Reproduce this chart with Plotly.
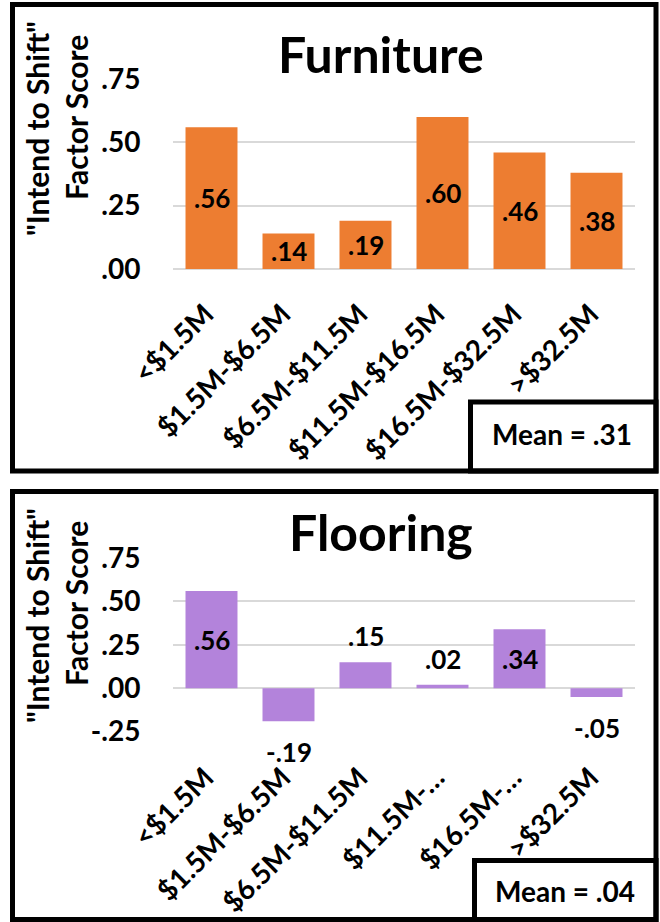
import plotly.graph_objects as go

# ---------------- data ----------------
categories_top = ["<$1.5M", "$1.5M-$6.5M", "$6.5M-$11.5M", "$11.5M-$16.5M", "$16.5M-$32.5M", ">$32.5M"]
furniture_values = [0.56, 0.14, 0.19, 0.60, 0.46, 0.38]
furniture_label_pos = ["inside", "inside", "inside", "inside", "inside", "inside"]
furniture_mean = ".31"

categories_bottom = ["<$1.5M", "$1.5M-$6.5M", "$6.5M-$11.5M", "$11.5M-…", "$16.5M-…", ">$32.5M"]
flooring_values = [0.56, -0.19, 0.15, 0.02, 0.34, -0.05]
flooring_label_pos = ["inside", "outside", "outside", "outside", "inside", "outside"]
flooring_mean = ".04"

yticks_top = [0.0, 0.25, 0.50, 0.75]
yticktext_top = [".00", ".25", ".50", ".75"]
yticks_bottom = [-0.25, 0.0, 0.25, 0.50, 0.75]
yticktext_bottom = ["-.25", ".00", ".25", ".50", ".75"]

titles = ["Furniture", "Flooring"]
ytitle_lines = ['"Intend to Shift"', "Factor Score"]

# ---------------- style ----------------
W, H = 660, 922
FONT = "Lato"
ORANGE = "#ED7D31"
PURPLE = "#B383DB"
GRID = "#D9D9D9"


def px(x):
    return x / W


def py(y):
    return 1 - y / H


def fmt(v):
    s = f"{v:.2f}"
    return s.replace("0.", ".", 1)


fig = go.Figure()
fig.add_trace(go.Bar(x=categories_top, y=furniture_values, marker_color=ORANGE,
                     xaxis="x", yaxis="y", hoverinfo="skip", showlegend=False))
fig.add_trace(go.Bar(x=categories_bottom, y=flooring_values, marker_color=PURPLE,
                     xaxis="x2", yaxis="y2", hoverinfo="skip", showlegend=False))

xdom = [px(173), px(635)]
xtickfont = dict(family=FONT, size=28, color="black", weight="bold")
ytickfont = dict(family=FONT, size=28, color="black", weight="bold")
common_x = dict(showgrid=False, zeroline=False, showline=False, tickangle=-45, automargin=False,
                tickfont=xtickfont, ticks="outside", tickcolor="rgba(0,0,0,0)",
                ticklabelshift=-6, fixedrange=True)
common_y = dict(showgrid=True, gridcolor=GRID, gridwidth=2, zeroline=True, zerolinecolor=GRID,
                zerolinewidth=2, showline=False, tickfont=ytickfont, ticks="outside", automargin=False,
                ticklen=26, tickcolor="rgba(0,0,0,0)", fixedrange=True)

fig.update_layout(
    template="none",
    width=W, height=H, margin=dict(l=0, r=0, t=0, b=0, pad=0, autoexpand=False),
    showlegend=False,
    paper_bgcolor="white", plot_bgcolor="white", bargap=0.325,
    xaxis=dict(domain=xdom, anchor="y", ticklen=16, **common_x),
    yaxis=dict(domain=[py(269.5), py(78.5)], range=[-0.002, 0.752], anchor="x",
               tickvals=yticks_top, ticktext=yticktext_top, **common_y),
    xaxis2=dict(domain=xdom, anchor="y2", ticklen=17, **common_x),
    yaxis2=dict(domain=[py(732), py(557.7)], range=[-0.252, 0.752], anchor="x2",
                tickvals=yticks_bottom, ticktext=yticktext_bottom, **common_y),
)

annotations = []
labfont = dict(family=FONT, size=26, color="black", weight="bold")


def add_labels(cats, vals, poss, xr, yr):
    for c, v, p in zip(cats, vals, poss):
        if p == "inside":
            annotations.append(dict(x=c, y=v / 2, xref=xr, yref=yr, text=fmt(v), showarrow=False,
                                    font=labfont, xanchor="center", yanchor="middle"))
        else:
            annotations.append(dict(x=c, y=v, xref=xr, yref=yr, text=fmt(v), showarrow=False,
                                    font=labfont, xanchor="center", yanchor="middle",
                                    yshift=26 if v >= 0 else -31))


add_labels(categories_top, furniture_values, furniture_label_pos, "x", "y")
add_labels(categories_bottom, flooring_values, flooring_label_pos, "x2", "y2")

# titles
for t, yc in zip(titles, [54, 532]):
    annotations.append(dict(x=px(381), y=py(yc), xref="paper", yref="paper", text=t, showarrow=False,
                            font=dict(family=FONT, size=50, color="black", weight="bold"),
                            xanchor="center", yanchor="middle"))

# y axis titles
ytfont = dict(family=FONT, size=30, color="black", weight="bold")
for (c1, c2) in [(129, 118), (616, 604)]:
    annotations.append(dict(x=px(37), y=py(c1), xref="paper", yref="paper", text=ytitle_lines[0],
                            textangle=-90, showarrow=False, font=ytfont,
                            xanchor="center", yanchor="middle"))
    annotations.append(dict(x=px(76), y=py(c2), xref="paper", yref="paper", text=ytitle_lines[1],
                            textangle=-90, showarrow=False, font=ytfont,
                            xanchor="center", yanchor="middle"))

# mean boxes text
meanfont = dict(family=FONT, size=28, color="black", weight="bold")
annotations.append(dict(x=px(562), y=py(434), xref="paper", yref="paper", text="Mean = " + furniture_mean,
                        showarrow=False, font=meanfont, xanchor="center", yanchor="middle"))
annotations.append(dict(x=px(565), y=py(891), xref="paper", yref="paper", text="Mean = " + flooring_mean,
                        showarrow=False, font=meanfont, xanchor="center", yanchor="middle"))

shapes = []


def rect(x0, y0, x1, y1, w):
    shapes.append(dict(type="rect", xref="paper", yref="paper", x0=px(x0), x1=px(x1),
                       y0=py(y1), y1=py(y0), line=dict(color="black", width=w),
                       fillcolor="rgba(0,0,0,0)"))


rect(12.5, 4.5, 656, 471, 5)
rect(470.5, 402, 656, 471, 5)
rect(12.5, 491.5, 656, 919.5, 5)
rect(474.5, 860.5, 656, 919.5, 5)

fig.update_layout(annotations=annotations, shapes=shapes)
fig.write_html("out.html", config={"displayModeBar": False},
               post_script="document.body.style.margin='0';document.body.style.overflow='hidden';")
